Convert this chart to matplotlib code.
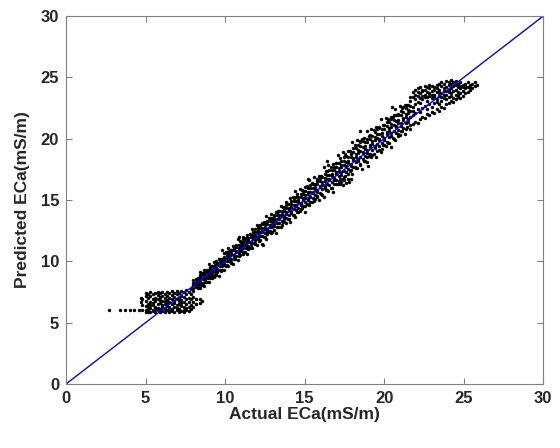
import matplotlib
matplotlib.use('Agg')
import matplotlib.pyplot as plt

plt.rcParams['font.family'] = ['Liberation Sans', 'DejaVu Sans']

# ---- data: (actual, [predicted ...]) ----
# lone points on the left of the floor
outlier_rows = [
    (2.7, [6.0]), (3.4, [6.0]), (3.7, [6.0]), (4.0, [6.0]), (4.3, [6.0]),
    (4.6, [6.0]), (4.8, [6.0, 6.4, 6.9]), (4.7, [6.7, 7.0]),
]

# block of points sitting on the ~5.9 floor
low_rows = [
    (5.00, [5.9, 6.35, 6.8, 7.2, 6.05, 7.45]),
    (5.15, [6.0, 6.55, 6.25, 7.0, 7.35, 5.9]),
    (5.30, [5.9, 6.2, 6.7, 7.15, 6.45, 7.5]),
    (5.45, [6.05, 6.4, 6.9, 6.6, 7.3, 5.95]),
    (5.60, [5.9, 6.3, 6.75, 7.05, 7.45, 6.1]),
    (5.75, [6.0, 6.5, 6.2, 6.95, 7.25, 7.5]),
    (5.90, [5.9, 6.15, 6.6, 7.1, 6.85, 7.4]),
    (6.05, [5.95, 6.45, 6.3, 6.8, 7.2, 7.5]),
    (6.20, [5.9, 6.1, 6.55, 7.0, 7.35, 6.75]),
    (6.35, [6.0, 6.35, 6.85, 6.6, 7.15, 7.5]),
    (6.50, [5.9, 6.25, 6.7, 7.05, 7.4, 6.05]),
    (6.65, [5.95, 6.5, 6.15, 6.9, 7.25, 7.55]),
    (6.80, [5.9, 6.3, 6.6, 7.1, 6.8, 7.45]),
    (6.95, [6.0, 6.4, 6.2, 6.95, 7.3, 7.6]),
    (7.10, [5.9, 6.15, 6.55, 7.0, 7.4, 6.75]),
    (7.25, [5.95, 6.35, 6.85, 6.6, 7.2, 7.6]),
    (7.40, [5.9, 6.25, 6.7, 7.1, 7.5, 6.05]),
    (7.55, [6.0, 6.5, 6.2, 6.9, 7.35, 7.7]),
    (7.70, [5.95, 6.3, 6.65, 7.05, 7.5]),
    (7.85, [6.1, 6.45, 6.9, 7.3, 7.75]),
    (8.00, [6.3, 6.7, 7.1]),
    (8.20, [6.5, 6.9]),
    (8.40, [6.6, 6.95]),
    (8.55, [6.75]),
]

# main band along the 1:1 line
band_rows = [
    (8.00, [7.6, 7.85, 8.1, 8.25, 8.45]),
    (8.15, [7.88, 8.15, 8.33, 8.55, 8.1]),
    (8.30, [7.85, 8.08, 8.35, 8.62, 8.43]),
    (8.45, [8.05, 8.35, 8.7, 8.85, 8.25]),
    (8.60, [8.25, 8.65, 8.55, 8.9, 9.08]),
    (8.75, [8.28, 8.52, 8.9, 8.75, 9.12]),
    (8.90, [8.65, 9.0, 8.75, 9.32, 9.12]),
    (9.05, [8.6, 8.9, 9.15, 9.35, 9.55]),
    (9.20, [8.9, 9.2, 9.4, 9.65, 9.15]),
    (9.35, [8.85, 9.1, 9.4, 9.7, 9.5]),
    (9.50, [9.1, 9.4, 9.75, 9.9, 9.3]),
    (9.65, [9.3, 9.7, 9.6, 9.95, 10.12]),
    (9.80, [9.32, 9.58, 9.95, 9.8, 10.18]),
    (9.95, [9.7, 10.05, 9.8, 10.38, 10.18]),
    (10.10, [9.7, 10.03, 10.31, 10.53, 10.75]),
    (10.25, [10.02, 10.35, 10.57, 10.85, 10.3]),
    (10.40, [9.95, 10.22, 10.56, 10.89, 10.67]),
    (10.55, [10.21, 10.54, 10.93, 11.09, 10.43]),
    (10.70, [10.42, 10.86, 10.75, 11.13, 11.32]),
    (10.85, [10.43, 10.7, 11.12, 10.95, 11.36]),
    (11.00, [10.83, 11.21, 10.93, 11.57, 11.35]),
    (11.15, [10.76, 11.09, 11.36, 11.58, 11.8]),
    (11.30, [11.07, 11.4, 11.62, 11.9, 11.35]),
    (11.45, [11.0, 11.27, 11.6, 11.94, 11.72]),
    (11.60, [11.26, 11.59, 11.98, 12.14, 11.48]),
    (11.75, [11.47, 11.91, 11.8, 12.18, 12.37]),
    (11.90, [11.48, 11.75, 12.17, 12.0, 12.41]),
    (12.05, [11.83, 12.28, 11.96, 12.70, 12.44]),
    (12.20, [11.72, 12.1, 12.43, 12.69, 12.95]),
    (12.35, [12.06, 12.45, 12.71, 13.04, 12.39]),
    (12.50, [11.95, 12.28, 12.67, 13.06, 12.8]),
    (12.65, [12.23, 12.62, 13.08, 13.27, 12.49]),
    (12.80, [12.45, 12.97, 12.84, 13.29, 13.52]),
    (12.95, [12.43, 12.76, 13.25, 13.05, 13.54]),
    (13.10, [12.88, 13.33, 13.01, 13.75, 13.49]),
    (13.25, [12.77, 13.16, 13.48, 13.74, 14.0]),
    (13.40, [13.11, 13.5, 13.76, 14.09, 13.44]),
    (13.55, [13.0, 13.33, 13.72, 14.1, 13.85]),
    (13.70, [13.28, 13.67, 14.13, 14.32, 13.54]),
    (13.85, [13.5, 14.02, 13.89, 14.34, 14.57]),
    (14.00, [13.44, 13.81, 14.38, 14.15, 14.71]),
    (14.15, [13.92, 14.45, 14.07, 14.94, 14.64]),
    (14.30, [13.78, 14.23, 14.6, 14.9, 15.2]),
    (14.45, [14.15, 14.6, 14.9, 15.28, 14.52]),
    (14.60, [14.0, 14.38, 14.83, 15.28, 14.98]),
    (14.75, [14.3, 14.75, 15.28, 15.5, 14.6]),
    (14.90, [14.53, 15.13, 14.98, 15.5, 15.76]),
    (15.05, [14.49, 14.86, 15.43, 15.2, 15.76]),
    (15.20, [14.97, 15.5, 15.12, 15.99, 15.69]),
    (15.35, [14.83, 15.28, 15.65, 15.95, 16.25]),
    (15.50, [15.2, 15.65, 15.95, 16.33, 15.57]),
    (15.65, [15.05, 15.43, 15.88, 16.33, 16.03]),
    (15.80, [15.35, 15.8, 16.33, 16.55, 15.65]),
    (15.95, [15.58, 16.18, 16.03, 16.55, 16.81]),
    (16.10, [15.44, 15.87, 16.51, 16.25, 16.89]),
    (16.25, [15.98, 16.57, 16.15, 17.12, 16.78]),
    (16.40, [15.79, 16.3, 16.72, 17.06, 17.4]),
    (16.55, [16.19, 16.7, 17.04, 17.47, 16.62]),
    (16.70, [16.0, 16.43, 16.94, 17.45, 17.11]),
    (16.85, [16.32, 16.83, 17.43, 17.68, 16.66]),
    (17.00, [16.6, 17.29, 17.12, 17.71, 18.01]),
    (17.15, [16.54, 16.97, 17.61, 17.35, 17.99]),
    (17.30, [17.08, 17.67, 17.25, 18.22, 17.88]),
    (17.45, [16.89, 17.4, 17.82, 18.16, 18.5]),
    (17.60, [17.29, 17.8, 18.14, 18.57, 17.72]),
    (17.75, [17.1, 17.53, 18.04, 18.55, 18.21]),
    (17.90, [17.42, 17.93, 18.53, 18.78, 17.76]),
    (18.05, [17.69, 18.45, 18.26, 18.92, 19.25]),
    (18.20, [17.6, 18.07, 18.79, 18.5, 19.21]),
    (18.35, [18.18, 18.84, 18.37, 19.46, 19.08]),
    (18.50, [17.95, 18.52, 18.99, 19.37, 19.75]),
    (18.65, [18.38, 18.95, 19.33, 19.81, 18.86]),
    (18.80, [18.15, 18.63, 19.2, 19.77, 19.39]),
    (18.95, [18.49, 19.06, 19.73, 20.01, 18.87]),
    (19.10, [18.74, 19.5, 19.31, 19.97, 20.3]),
    (19.25, [18.65, 19.12, 19.84, 19.55, 20.26]),
    (19.40, [19.23, 19.89, 19.42, 20.51, 20.13]),
    (19.55, [19.0, 19.57, 20.04, 20.42, 20.8]),
    (19.70, [19.43, 20.0, 20.38, 20.86, 19.91]),
    (19.85, [19.2, 19.68, 20.25, 20.82, 20.44]),
    (20.00, [19.5, 20.1, 20.8, 21.1, 19.9]),
    (20.15, [19.75, 20.55, 20.35, 21.05, 21.4]),
    (20.30, [19.65, 20.15, 20.9, 20.6, 21.35]),
    (20.45, [20.25, 20.95, 20.45, 21.6, 21.2]),
    (20.60, [20.0, 20.6, 21.1, 21.5, 21.9]),
    (20.75, [20.45, 21.05, 21.45, 21.95, 20.95]),
    (20.90, [20.2, 20.7, 21.3, 21.9, 21.5]),
    (21.05, [20.65, 21.25, 21.95, 22.25, 21.05]),
    (21.20, [20.9, 21.7, 21.5, 22.2, 22.55]),
    (21.35, [20.8, 21.3, 22.05, 21.75, 22.5]),
    (21.50, [21.4, 22.1, 21.6, 22.75, 22.35]),
    (21.65, [21.15, 21.75, 22.25, 22.65, 23.05]),
]

# looser points along both edges of the band
edge_rows = [
    (8.40, [7.8, 9.11, 8.55]), (8.55, [8.1, 9.08]), (8.70, [7.95, 9.3]),
    (8.85, [8.33, 9.3]), (9.00, [8.33, 9.79]), (9.15, [8.66, 9.64]),
    (9.30, [8.74, 9.98]), (9.45, [8.9, 10.0]), (9.60, [8.81, 10.16]),
    (9.75, [9.23, 10.2]), (9.90, [9.26, 10.65]), (10.05, [9.64, 10.75]),
    (10.20, [9.62, 11.11]), (10.35, [9.86, 10.96]), (10.50, [9.75, 11.28]),
    (10.65, [10.2, 11.26]), (10.80, [10.14, 11.79]), (10.95, [10.54, 11.65]),
    (11.10, [10.56, 11.97]), (11.25, [10.76, 11.86]), (11.40, [10.61, 12.14]),
    (11.55, [11.1, 12.2]), (11.70, [11.08, 12.65]), (11.85, [11.44, 12.6]),
    (12.00, [11.34, 13.0]), (12.15, [11.64, 12.81]), (12.30, [11.45, 13.16]),
    (12.45, [11.97, 13.17]), (12.60, [11.85, 13.7]), (12.75, [12.37, 13.52]),
    (12.90, [12.29, 13.86]), (13.05, [12.58, 13.72]), (13.20, [12.3, 14.01]),
    (13.35, [12.83, 14.11]), (13.50, [12.79, 14.55]), (13.65, [13.19, 14.42]),
    (13.80, [13.14, 14.8]), (13.95, [13.43, 14.67]), (14.10, [13.2, 15.18]),
    (14.25, [13.8, 15.22]), (14.40, [13.61, 15.76]), (14.55, [14.04, 15.46]),
    (14.70, [14.08, 15.89]), (14.85, [14.34, 15.84]), (15.00, [14.05, 16.03]),
    (15.15, [14.69, 16.12]), (15.30, [14.57, 16.6]), (15.45, [14.88, 16.42]),
    (15.60, [14.92, 16.85]), (15.75, [15.23, 16.68]), (15.90, [15.0, 16.98]),
    (16.05, [15.53, 16.97]), (16.20, [15.28, 17.71]), (16.35, [15.8, 17.38]),
    (16.50, [15.76, 17.83]), (16.65, [15.97, 17.73]), (16.80, [15.69, 17.94]),
    (16.95, [16.34, 18.06]), (17.10, [16.34, 18.65]), (17.25, [16.68, 18.43]),
    (17.40, [16.7, 18.89]), (17.55, [16.98, 18.73]), (17.70, [16.75, 19.0]),
    (17.85, [17.34, 19.02]), (18.00, [17.13, 19.77]), (18.15, [17.69, 19.45]),
    (18.30, [17.64, 19.87]), (18.45, [17.85, 19.84]), (18.60, [17.53, 19.96]),
    (18.75, [18.22, 20.05]), (18.90, [18.1, 20.6]), (19.05, [18.63, 20.24]),
    (19.20, [18.47, 20.83]), (19.35, [18.76, 20.69]), (19.50, [18.5, 20.93]),
    (19.65, [19.12, 20.94]), (19.80, [18.93, 21.57]), (19.95, [19.49, 21.13]),
    (20.10, [19.44, 21.67]), (20.25, [19.65, 21.58]), (20.40, [19.33, 21.76]),
    (20.55, [20.02, 21.79]), (20.70, [19.9, 22.4]), (20.85, [20.39, 22.02]),
    (21.00, [20.32, 22.68]), (21.15, [20.61, 22.47]), (21.30, [20.35, 22.78]),
    (21.45, [20.94, 22.73]), (21.60, [20.78, 23.42]),
]

# stray points and the small group below the line near x = 17-18
stray_rows = [
    (9.8, [10.9]), (10.9, [12.0]), (12.4, [11.3]), (15.2, [16.7]),
    (16.4, [18.2]), (18.5, [20.6]), (19.0, [17.8]), (20.5, [22.6]),
    (17.2, [16.3]), (17.3, [16.5]), (17.4, [16.2]), (17.5, [16.6]),
    (17.6, [16.4]), (17.8, [16.5]), (17.9, [16.7]),
]

# cloud at the upper end
top_rows = [
    (21.80, [21.2, 21.9, 22.6, 23.4, 23.8, 22.3]),
    (21.95, [21.4, 22.1, 22.8, 23.6, 24.0, 23.2]),
    (22.10, [21.3, 22.4, 23.0, 23.5, 24.1, 23.8]),
    (22.25, [21.6, 22.2, 22.9, 23.7, 24.2, 23.3]),
    (22.40, [21.8, 22.5, 23.2, 23.9, 24.0, 23.5]),
    (22.55, [21.7, 22.7, 23.4, 23.6, 24.3, 24.0]),
    (22.70, [22.0, 22.4, 23.1, 23.8, 24.2, 23.4]),
    (22.85, [21.9, 22.8, 23.5, 24.1, 24.4, 23.7]),
    (23.00, [22.2, 22.6, 23.3, 23.9, 24.3, 23.6]),
    (23.15, [22.1, 22.9, 23.6, 24.2, 24.0, 23.4]),
    (23.30, [22.4, 23.0, 23.2, 23.8, 24.4, 24.1]),
    (23.45, [22.3, 22.8, 23.5, 24.0, 24.5, 23.7]),
    (23.60, [22.6, 23.1, 23.7, 24.3, 23.4, 24.6]),
    (23.75, [22.5, 23.3, 23.9, 24.1, 24.5, 23.6]),
    (23.90, [22.8, 23.2, 23.6, 24.2, 24.7, 23.9]),
    (24.05, [22.9, 23.4, 23.8, 24.4, 24.0, 24.6]),
    (24.20, [23.1, 23.5, 23.7, 24.1, 24.5, 24.8]),
    (24.35, [23.0, 23.3, 23.9, 24.3, 24.6]),
    (24.50, [23.2, 23.6, 24.0, 24.4, 24.7]),
    (24.65, [23.4, 23.8, 24.2, 24.5, 23.6]),
    (24.80, [23.3, 23.7, 24.1, 24.6, 24.3]),
    (24.95, [23.5, 23.9, 24.4, 24.2]),
    (25.10, [23.7, 24.1, 24.5, 24.3]),
    (25.25, [23.8, 24.2, 24.6]),
    (25.40, [24.0, 24.4, 24.2]),
    (25.55, [24.1, 24.5]),
    (25.70, [24.3, 24.6]),
    (25.85, [24.4]),
]

xticks = [0, 5, 10, 15, 20, 25, 30]
yticks = [0, 5, 10, 15, 20, 25, 30]

all_rows = outlier_rows + low_rows + band_rows + edge_rows + stray_rows + top_rows
actual = [x for x, ys in all_rows for _ in ys]
predicted = [y for _, ys in all_rows for y in ys]

fig = plt.figure(figsize=(5.6, 4.48), dpi=100)
ax = fig.add_axes([0.118, 0.143, 0.852, 0.821])

ax.scatter(actual, predicted, s=6, c='black', marker='o', linewidths=0)
ax.plot([0, 30], [0, 30], color='blue', lw=1.0)

ax.set_xlim(0, 30)
ax.set_ylim(0, 30)
ax.set_xticks(xticks)
ax.set_yticks(yticks)
ax.tick_params(direction='in', top=True, right=True, length=4, width=0.8,
               color='#808080', labelsize=12, labelcolor='#262626', pad=5)
for lab in ax.get_xticklabels() + ax.get_yticklabels():
    lab.set_fontweight('bold')
for sp in ax.spines.values():
    sp.set_color('#808080')
    sp.set_linewidth(0.8)

ax.set_xlabel('Actual ECa(mS/m)', fontsize=12.5, fontweight='bold', color='#262626', labelpad=1)
ax.set_ylabel('Predicted ECa(mS/m)', fontsize=12.5, fontweight='bold', color='#262626', labelpad=8)

plt.savefig('out.png', dpi=100)
